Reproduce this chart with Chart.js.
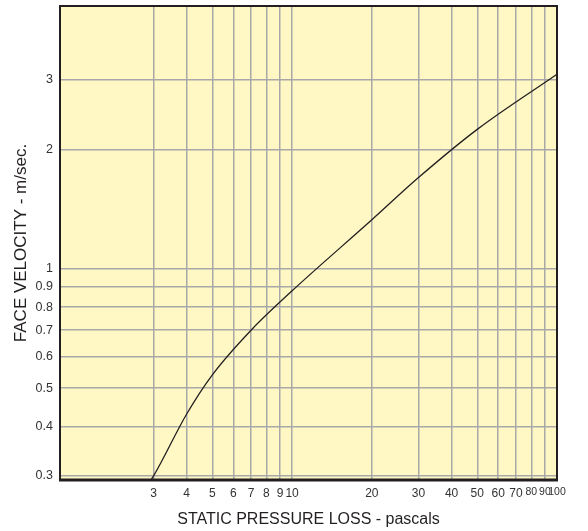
<!DOCTYPE html>
<html><head><meta charset="utf-8">
<script src="https://cdn.jsdelivr.net/npm/chart.js@4.4.1/dist/chart.umd.min.js"></script>
<style>html,body{margin:0;padding:0;background:#fff;}</style>
</head><body>
<canvas id="c" width="588" height="531" style="width:588px;height:531px;display:block"></canvas>
<script>
// Tick labels
const pressureTicks = [3, 4, 5, 6, 7, 8, 9, 10, 20, 30, 40, 50, 60, 70, 80, 90, 100];
const velocityTicks = [0.3, 0.4, 0.5, 0.6, 0.7, 0.8, 0.9, 1, 2, 3];
// Series (pressure in pascals, velocity in m/s)
const pressure = [2.8, 3, 4, 5, 7, 10, 20, 30, 50, 100];
const velocity = [0.28, 0.30, 0.43, 0.54, 0.70, 0.88, 1.33, 1.70, 2.25, 3.10];

const FONT = "'Liberation Sans', Arial, Helvetica, sans-serif";

const framePlugin = {
  id: 'frame',
  beforeDraw(chart) {
    const { ctx, chartArea: a } = chart;
    ctx.save();
    ctx.fillStyle = '#FFF8C4';
    ctx.fillRect(a.left, a.top, a.right - a.left, a.bottom - a.top);
    ctx.restore();
  },
  afterDatasetsDraw(chart) {
    const { ctx, chartArea: a } = chart;
    ctx.save();
    ctx.strokeStyle = '#231f20';
    ctx.lineWidth = 2;
    ctx.strokeRect(a.left, a.top, a.right - a.left, a.bottom - a.top);
    ctx.lineWidth = 3;
    ctx.beginPath();
    ctx.moveTo(a.left - 1, a.bottom);
    ctx.lineTo(a.right + 1, a.bottom);
    ctx.stroke();
    ctx.restore();
  }
};

new Chart(document.getElementById('c'), {
  type: 'scatter',
  data: {
    datasets: [{
      data: pressure.map((p, i) => ({ x: p, y: velocity[i] })),
      showLine: true,
      borderColor: '#231f20',
      borderWidth: 1.3,
      pointRadius: 0,
      cubicInterpolationMode: 'monotone'
    }]
  },
  options: {
    responsive: false,
    animation: false,
    layout: { padding: { top: 6, right: 31, left: 0, bottom: 0 } },
    plugins: { legend: { display: false }, tooltip: { enabled: false } },
    scales: {
      x: {
        type: 'logarithmic',
        position: 'bottom',
        min: 1.33,
        max: 100,
        bounds: 'data',
        afterBuildTicks(scale) { scale.ticks = pressureTicks.map(v => ({ value: v })); },
        afterFit(scale) { scale.height = 51; scale.paddingLeft = 0; scale.paddingRight = 0; },
        ticks: {
          autoSkip: false, maxRotation: 0, minRotation: 0, padding: 6,
          color: '#333333',
          font: (ctx) => ({ family: FONT, size: (ctx.tick && ctx.tick.value >= 80) ? 10.5 : 12 }),
          callback: (v) => String(v)
        },
        grid: { color: '#a8a8a8', lineWidth: 1.5, drawTicks: false },
        border: { display: false },
        title: {
          display: true, text: 'STATIC PRESSURE LOSS - pascals',
          color: '#231f20', font: { family: FONT, size: 16 },
          padding: { top: 0, bottom: 2 }
        }
      },
      y: {
        type: 'logarithmic',
        position: 'left',
        min: 0.293,
        max: 4.61,
        bounds: 'data',
        afterBuildTicks(scale) { scale.ticks = velocityTicks.map(v => ({ value: v })); },
        afterFit(scale) { scale.width = 60; scale.paddingTop = 0; scale.paddingBottom = 0; },
        ticks: {
          autoSkip: false, padding: 7,
          color: '#333333',
          font: { family: FONT, size: 12.5 },
          callback: (v) => String(v)
        },
        grid: { color: '#a8a8a8', lineWidth: 1.5, drawTicks: false },
        border: { display: false },
        title: {
          display: true, text: 'FACE VELOCITY - m/sec.',
          color: '#231f20', font: { family: FONT, size: 17 },
          padding: { top: 11, bottom: 0 }
        }
      }
    }
  },
  plugins: [framePlugin]
});
</script>
</body></html>
